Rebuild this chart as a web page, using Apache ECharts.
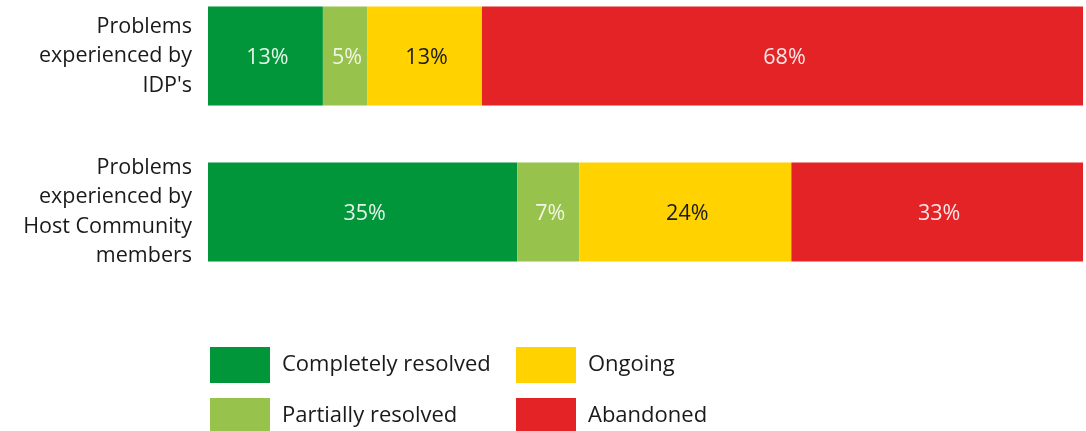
<!DOCTYPE html>
<html>
<head>
<meta charset="utf-8">
<script src="https://cdn.jsdelivr.net/npm/echarts@6/dist/echarts.min.js"></script>
<style>
  html, body { margin: 0; padding: 0; background: #fff; }
  #chart { width: 1086px; height: 431px; }
</style>
</head>
<body>
<div id="chart"></div>
<script>
const groups = ["Problems\nexperienced by\nIDP's", 'Problems\nexperienced by\nHost Community\nmembers']
const seriesNames = ['Completely resolved', 'Partially resolved', 'Ongoing', 'Abandoned']
const completely = [13, 35]
const partially = [5, 7]
const ongoing = [13, 24]
const abandoned = [68, 33]

const colors = ['#009639', '#97c24b', '#ffd200', '#e32325']
const labelColors = ['#e6f4ea', '#f0f6e4', '#1a1a1a', '#fde6e6']
const values = [completely, partially, ongoing, abandoned]
const font = '"Open Sans", "Noto Sans", sans-serif'

// legend slots: two columns, two rows
const legendLeft = [210, 210, 516, 516]
const legendTop = [347, 398, 347, 398]

const chart = echarts.init(document.getElementById('chart'), null, { renderer: 'canvas' })

chart.setOption({
  backgroundColor: '#fff',
  animation: false,
  textStyle: { fontFamily: font },
  grid: { left: 208, right: 3, top: -22, height: 312, outerBoundsMode: 'none', containLabel: false },
  legend: seriesNames.map((name, i) => ({
    data: [name],
    left: legendLeft[i],
    top: legendTop[i],
    padding: 0,
    itemWidth: 60,
    itemHeight: 36,
    itemGap: 0,
    icon: 'rect',
    textStyle: { fontSize: 22, color: '#1a1a1a', fontFamily: font, padding: [3, 0, 0, 7] },
  })),
  xAxis: {
    type: 'value',
    min: 0,
    max: 99,
    show: false,
  },
  yAxis: {
    type: 'category',
    data: groups,
    inverse: true,
    axisLine: { show: false },
    axisTick: { show: false },
    splitLine: { show: false },
    axisLabel: {
      color: '#1a1a1a',
      fontSize: 21.5,
      lineHeight: 29.5,
      align: 'right',
      margin: 16,
      fontFamily: font,
    },
  },
  series: seriesNames.map((name, i) => ({
    name,
    type: 'bar',
    stack: 'total',
    data: values[i],
    barWidth: 99,
    itemStyle: { color: colors[i] },
    label: {
      show: true,
      position: 'inside',
      offset: [2, 2],
      formatter: '{c}%',
      color: labelColors[i],
      fontSize: 21.5,
      fontFamily: font,
    },
  })),
})
</script>
</body>
</html>
